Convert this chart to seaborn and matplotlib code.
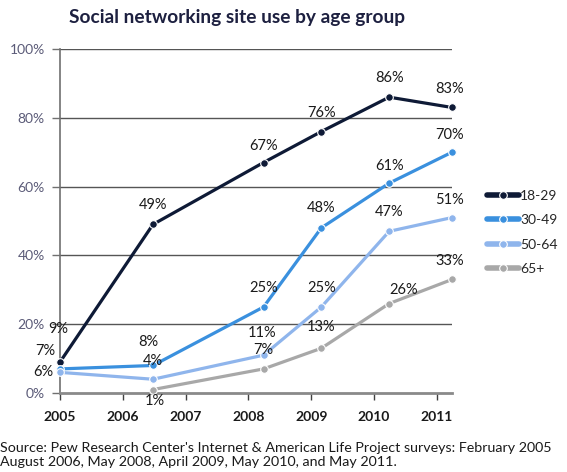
import numpy as np
import pandas as pd
import matplotlib
matplotlib.use("Agg")
import matplotlib.pyplot as plt
import seaborn as sns

# ---- data ----
survey_years = [2005.0, 2006.48, 2008.24, 2009.16, 2010.24, 2011.24]
groups = ["18-29", "30-49", "50-64", "65+"]
vals_18_29 = [9, 49, 67, 76, 86, 83]
vals_30_49 = [7, 8, 25, 48, 61, 70]
vals_50_64 = [6, 4, 11, 25, 47, 51]
vals_65 = [np.nan, 1, 7, 13, 26, 33]
year_ticks = [2005, 2006, 2007, 2008, 2009, 2010, 2011]
pct_ticks = [0, 20, 40, 60, 80, 100]

title = "Social networking site use by age group"
source_text = ("Source: Pew Research Center's Internet & American Life Project surveys: February 2005\n"
               "August 2006, May 2008, April 2009, May 2010, and May 2011.")

series = dict(zip(groups, [vals_18_29, vals_30_49, vals_50_64, vals_65]))
rows = []
for g in groups:
    for x, v in zip(survey_years, series[g]):
        rows.append({"year": x, "pct": v, "group": g})
df = pd.DataFrame(rows)

# ---- style ----
colors = {"18-29": "#0e1a36", "30-49": "#3a90de", "50-64": "#8fb5ec", "65+": "#a8a8a8"}
label_offsets = {
    "18-29": [(-2, 33), (0, 19), (0, 17), (0, 19), (0, 19), (-2, 18)],
    "30-49": [(-15, 18), (-5, 23), (0, 19), (0, 20), (0, 17), (-2, 17)],
    "50-64": [(-17, 0), (0, 18), (-1, 22), (0, 19), (0, 19), (-2, 18)],
    "65+":   [None, (2, -11), (0, 19), (0, 21), (14, 14), (-2, 18)],
}

sns.set_style("white")
plt.rcParams["font.family"] = ["Lato", "DejaVu Sans"]

W, H = 567, 472
fig = plt.figure(figsize=(W / 100, H / 100), dpi=100)
ax = fig.add_axes([60 / W, 1 - 393 / H, (452 - 60) / W, (393 - 49) / H])

sns.lineplot(data=df, x="year", y="pct", hue="group", hue_order=groups,
             palette=colors, marker="o", markersize=5.5, linewidth=2.3,
             markeredgewidth=0.8, ax=ax, legend=True, clip_on=False, zorder=3)

# data labels
for g in groups:
    for x, v, off in zip(survey_years, series[g], label_offsets[g]):
        if off is None or np.isnan(v):
            continue
        ax.annotate(f"{int(v)}%", (x, v), xytext=off, textcoords="offset pixels",
                    ha="center", va="center", fontsize=10.5, color="#1a1a1a", zorder=5)

ax.set_xlim(2005, 2011.24)
ax.set_ylim(0, 100)
ax.set_xticks(year_ticks)
ax.set_xticklabels([str(y) for y in year_ticks], fontsize=10, fontweight="bold", color="#1a1a1a")
ax.set_yticks(pct_ticks)
ax.set_yticklabels([f"{p}%" for p in pct_ticks], fontsize=10, color="#5b5b78")
ax.set_xlabel("")
ax.set_ylabel("")
ax.grid(False)
for p in pct_ticks[1:]:
    ax.axhline(p, color="#555555", lw=1.0, zorder=1)
for s in ["top", "right"]:
    ax.spines[s].set_visible(False)
ax.spines["left"].set_color("#707070")
ax.spines["left"].set_linewidth(1.2)
ax.spines["bottom"].set_color("#8a8a8a")
ax.spines["bottom"].set_linewidth(2.0)
ax.tick_params(axis="y", length=6, width=1, color="#707070", direction="out", left=True, pad=5)
ax.tick_params(axis="x", length=5, width=1, color="#404040", direction="out", bottom=True, pad=8)

# legend
handles, labels = ax.get_legend_handles_labels()
ax.get_legend().remove()
leg = fig.legend(handles, labels, loc="upper left", bbox_to_anchor=(484 / W, 1 - 187 / H),
                 frameon=False, fontsize=10, handlelength=2.3, handletextpad=0.1,
                 labelspacing=0.9, borderaxespad=0, borderpad=0.2)
for lh in leg.get_lines():
    lh.set_linewidth(4)

fig.text(237 / W, 1 - 18 / H, title, ha="center", va="center", fontsize=13.8,
         fontweight="bold", color="#1d2040")
fig.text(0, 1 - 455 / H, source_text, ha="left", va="center", fontsize=10.3,
         color="#1a1a1a", linespacing=1.15)

fig.savefig("out.png", dpi=100)
